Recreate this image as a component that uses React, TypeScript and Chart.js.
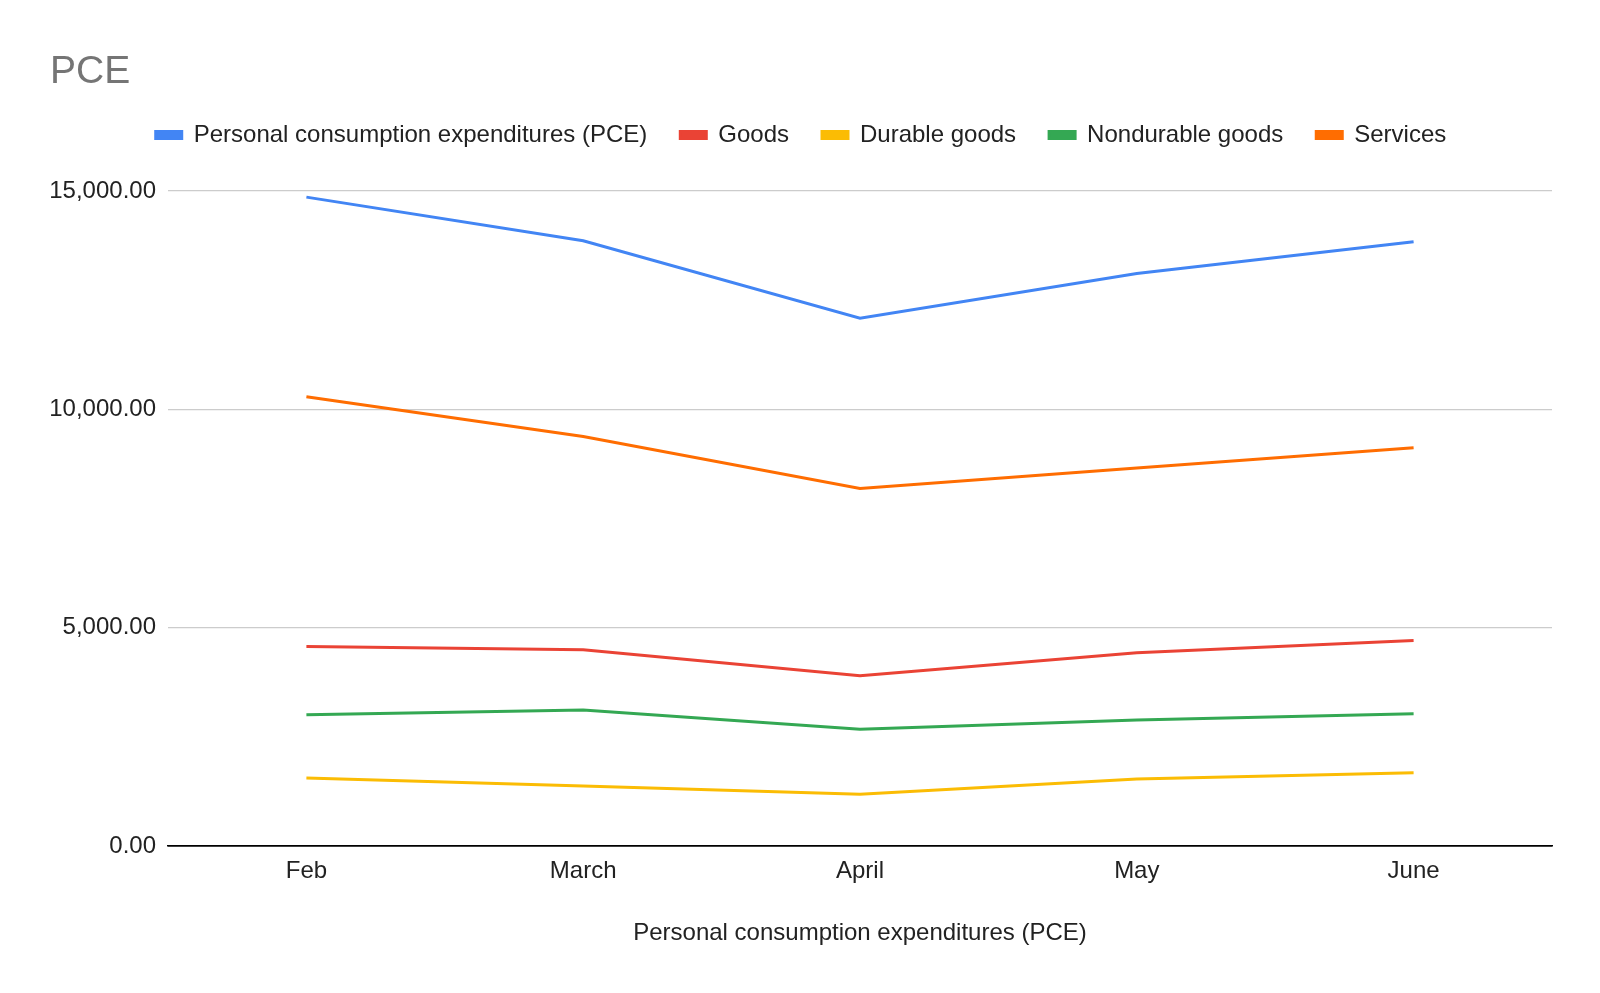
import React, { useEffect, useRef } from "react";
import { Chart, registerables } from "chart.js";

Chart.register(...registerables);

const categories = ["Feb", "March", "April", "May", "June"];
const pce = [14860, 13860, 12090, 13110, 13840];
const goods = [4570, 4500, 3900, 4430, 4710];
const durableGoods = [1560, 1380, 1190, 1540, 1680];
const nondurableGoods = [3010, 3120, 2680, 2890, 3030];
const services = [10290, 9380, 8190, 8660, 9120];
const yTicks = [0, 5000, 10000, 15000];

const FONT = "'Liberation Sans', Arial, sans-serif";

export default function App() {
  const ref = useRef<HTMLCanvasElement | null>(null);
  useEffect(() => {
    document.body.style.margin = "0";
    const ctx = ref.current!;
    const mk = (label: string, data: number[], color: string) => ({
      label,
      data,
      borderColor: color,
      backgroundColor: color,
      borderWidth: 3,
      pointRadius: 0,
      tension: 0,
      fill: false,
    });
    const chart = new Chart(ctx, {
      type: "line",
      data: {
        labels: categories,
        datasets: [
          mk("Personal consumption expenditures (PCE)", pce, "#4285F4"),
          mk("Goods", goods, "#EA4335"),
          mk("Durable goods", durableGoods, "#FBBC04"),
          mk("Nondurable goods", nondurableGoods, "#34A853"),
          mk("Services", services, "#FF6D01"),
        ],
      },
      options: {
        animation: false,
        responsive: true,
        maintainAspectRatio: false,
        layout: { padding: { left: 50, right: 48, top: 0, bottom: 45 } },
        plugins: {
          title: {
            display: true,
            text: "PCE",
            align: "start",
            color: "#757575",
            font: { family: FONT, size: 39, weight: "normal", lineHeight: 0.9 },
            padding: { top: 54.5, bottom: 0.4 },
          },
          subtitle: {
            display: true,
            text: "",
            weight: 500,
            font: { family: FONT, size: 1, lineHeight: 1 },
            padding: { top: 33, bottom: 0 },
          } as any,
          legend: {
            display: true,
            position: "top",
            align: "center",
            labels: {
              boxWidth: 26,
              boxHeight: 7,
              padding: 33,
              color: "#222222",
              font: { family: FONT, size: 24 },
            },
          },
          tooltip: { enabled: false },
        },
        scales: {
          x: {
            offset: true,
            grid: { display: false, drawTicks: false },
            border: { display: true, color: "#000000", width: 1.5 },
            ticks: { color: "#222222", padding: 10.7, font: { family: FONT, size: 24 } },
            title: {
              display: true,
              text: "Personal consumption expenditures (PCE)",
              color: "#222222",
              font: { family: FONT, size: 24 },
              padding: { top: 22.8, bottom: 0 },
            },
          },
          y: {
            min: 0,
            max: 15000,
            afterFit: (s: any) => {
              s.width = 118;
            },
            afterBuildTicks: (s: any) => {
              s.ticks = yTicks.map((v) => ({ value: v }));
            },
            grid: {
              drawTicks: false,
              color: (c: any) => (c.tick && c.tick.value === 0 ? "#000000" : "#cccccc"),
              lineWidth: (c: any) => (c.tick && c.tick.value === 0 ? 1.5 : 1.2),
            },
            border: { display: false },
            ticks: {
              color: "#222222",
              padding: 12,
              font: { family: FONT, size: 24 },
              callback: (v: any) =>
                Number(v).toLocaleString("en-US", { minimumFractionDigits: 2, maximumFractionDigits: 2 }),
            },
          },
        },
      },
    });
    return () => chart.destroy();
  }, []);
  return (
    <div style={{ width: 1600, height: 993, position: "relative", background: "#fff" }}>
      <canvas ref={ref} />
    </div>
  );
}
